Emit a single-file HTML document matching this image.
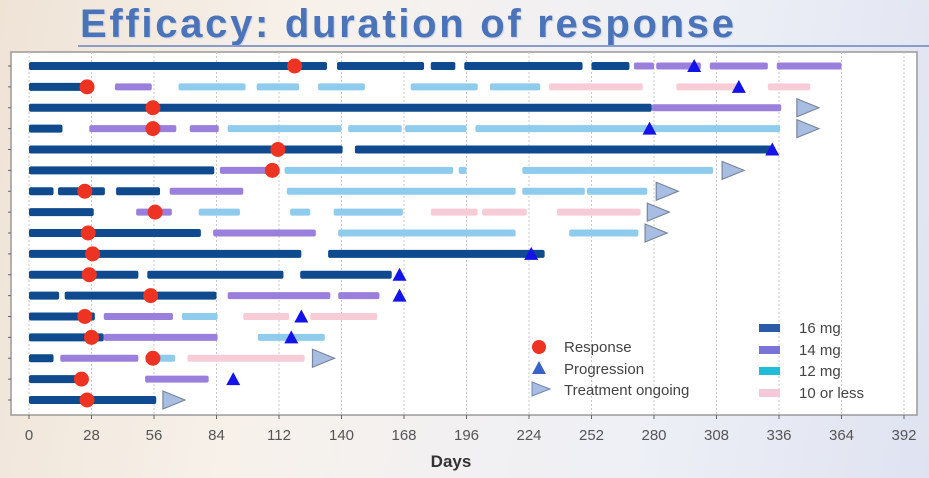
<!DOCTYPE html>
<html><head><meta charset="utf-8">
<style>
html,body{margin:0;padding:0;width:929px;height:478px;overflow:hidden;}
body{background:linear-gradient(100deg,#efe3d6 0%,#f7f1ea 30%,#eef0f6 70%,#dfe3f1 100%);font-family:"Liberation Sans",sans-serif;}
#title{position:absolute;left:80px;top:2px;font-size:40px;font-weight:bold;color:#4a73b9;letter-spacing:2.7px;text-shadow:1px 1px 1px #c9d3e6;white-space:nowrap;}
#titleline{position:absolute;left:78px;top:45px;width:851px;height:2px;background:#8a9cc9;}
svg{position:absolute;left:0;top:0;}
</style></head>
<body>
<div id="title">Efficacy: duration of response</div>
<div id="titleline"></div>
<svg id="chart" width="929" height="478"></svg>
<script>
const ticks=[0,28,56,84,112,140,168,196,224,252,280,308,336,364,392];
// per row segments: [start,end,dose] dose: 16,14,12(light),10
const rowSegs=[
 [[0,133.5,16],[138,177,16],[180,191,16],[195,248,16],[252,269,16],[271,280,14],[281,301,14],[305,331,14],[335,364,14]],
 [[0,26,16],[38.5,55,14],[67,97,12],[102,121,12],[129.5,150.5,12],[171,201,12],[206.5,229,12],[233,275,10],[290,318.5,10],[331,350,10]],
 [[0,279,16],[279,337,14]],
 [[0,15,16],[27,66,14],[72,85,14],[89,140,12],[143,167,12],[168.5,196,12],[200,336.5,12]],
 [[0,140.5,16],[146,333,16]],
 [[0,83,16],[85.5,107,14],[114.5,190,12],[192.5,196,12],[221,306.5,12]],
 [[0,11,16],[13,34,16],[39,58.7,16],[63,96,14],[115.5,218,12],[221,249,12],[250,277,12]],
 [[0,29,16],[48,64,14],[76,94.5,12],[117,126,12],[136.5,167.5,12],[180,201,10],[203,223,10],[236.5,274,10]],
 [[0,77,16],[82.5,128.5,14],[138.5,218,12],[242,273,12]],
 [[0,122,16],[134,231,16]],
 [[0,49,16],[53,114,16],[121.5,162.5,16]],
 [[0,13.5,16],[16,84,16],[89,135,14],[138.5,157,14]],
 [[0,29.5,16],[33.5,64.5,14],[68.5,84.5,12],[96,116.5,10],[126,156,10]],
 [[0,33.5,16],[33.5,84.5,14],[102.5,132.5,12]],
 [[0,11,16],[14,49,14],[55.5,65.5,12],[71,123.5,10]],
 [[0,23.7,16],[52,80.5,14]],
 [[0,57,16]]
];
const responseDay=[119,26,55.5,55.5,111.5,109,25,56.5,26.5,28.5,27,54.5,25,28,55.5,23.5,26];
const progressionDay=[298,318,null,278,333,null,null,null,null,225,166,166,122,117.5,null,91.5,null];
const ongoingDay=[null,null,344,344,null,310.5,281,277,276,null,null,null,null,null,127,null,60];

const svg=document.getElementById('chart');
const NS='http://www.w3.org/2000/svg';
const L=11,R=917,T=52,B=415;
const X=d=>29+d*(875/392);
const Y=i=>66+i*20.875;
const colors={16:'#0e4a8d',14:'#9a80dc',12:'#8ecbec',10:'#f8ccd6'};
function mk(tag,attrs,parent){const e=document.createElementNS(NS,tag);for(const k in attrs)e.setAttribute(k,attrs[k]);(parent||svg).appendChild(e);return e;}

const bg=mk('rect',{x:L,y:T,width:R-L,height:B-T,fill:'#fff',stroke:'#999','stroke-width':1.5});


ticks.forEach(t=>{
 const g=mk('line',{x1:X(t),x2:X(t),y1:T,y2:B,stroke:'#c8c8c8','stroke-dasharray':'2,2'});
 
 
 mk('line',{x1:X(t),x2:X(t),y1:B,y2:B+4,stroke:'#666'});
 const lb=mk('text',{x:X(t),y:440,'text-anchor':'middle','font-size':15,fill:'#555'});
 lb.textContent=t;
 
 
});
const xt=mk('text',{x:451,y:467,'text-anchor':'middle','font-size':17,'font-weight':'bold',fill:'#333'});
xt.textContent='Days';



rowSegs.forEach((segs,i)=>{
 const y=Y(i);
 mk('line',{x1:L-3,x2:L,y1:y,y2:y,stroke:'#666'});
 segs.forEach(s=>{
  const h=s[2]===16?8:7;
  const r=mk('rect',{x:X(s[0]),y:y-h/2,width:Math.max(1,X(s[1])-X(s[0])),height:h,rx:2,fill:colors[s[2]]});
  
  
 });
});
rowSegs.forEach((segs,i)=>{
 const y=Y(i);
 if(ongoingDay[i]!=null){const x=X(ongoingDay[i]);
  const p=mk('polygon',{points:`${x},${y-9} ${x+22},${y} ${x},${y+9}`,fill:'#a7bde2',stroke:'#7a869c','stroke-width':1.2});
  
  }
 if(progressionDay[i]!=null){const x=X(progressionDay[i]);
  const p=mk('polygon',{points:`${x-7},${y+6} ${x},${y-7} ${x+7},${y+6}`,fill:'#1414ea'});
  
  }
 const c=mk('circle',{cx:X(responseDay[i]),cy:y,r:7.5,fill:'#ee3322'});
 
 
});

// legend
const lg=mk('g',{});


mk('circle',{cx:539,cy:347,r:7,fill:'#ee3322'},lg);
mk('polygon',{points:'532,374 539,361 546,374',fill:'#3a63c8'},lg);
mk('polygon',{points:'532,382 550,389 532,396',fill:'#a7bde2',stroke:'#6f86b8'},lg);
[['Response',352],['Progression',374],['Treatment ongoing',395]].forEach(a=>{
 const t=mk('text',{x:564,y:a[1],'font-size':15,fill:'#444'},lg);t.textContent=a[0];
 
 
});
[['16 mg','#2b5aa8',328],['14 mg','#7a74d8',350],['12 mg','#21bcd6',371],['10 or less','#f6c9d8',393]].forEach(a=>{
 mk('rect',{x:759,y:a[2]-4,width:21,height:8,fill:a[1]},lg);
 const t=mk('text',{x:799,y:a[2]+5,'font-size':15,fill:'#444'},lg);t.textContent=a[0];
 
 
});
</script>
</body></html>
